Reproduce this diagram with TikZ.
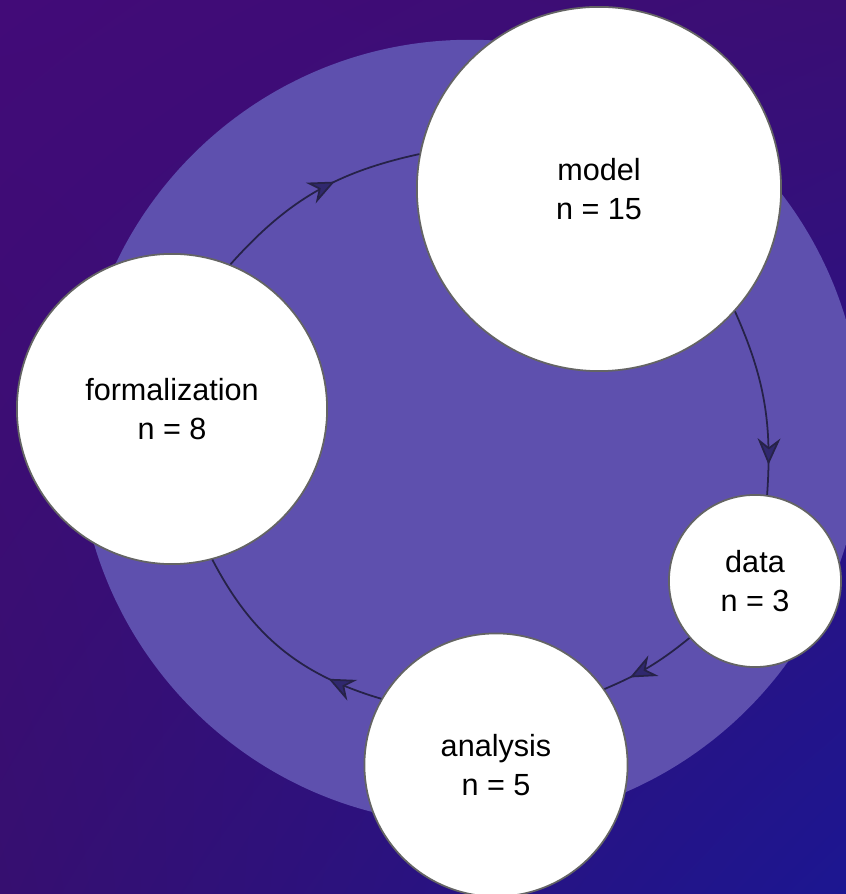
\documentclass[tikz,border=0pt]{standalone}
\usepackage{fontspec}
\setmainfont{Liberation Sans}
\usetikzlibrary{arrows.meta, decorations.markings, shadings}

\definecolor{bgtl}{RGB}{66,11,120}
\definecolor{bgtr}{RGB}{58,14,116}
\definecolor{bgbl}{RGB}{54,15,112}
\definecolor{bgbr}{RGB}{28,22,145}
\definecolor{ring}{RGB}{94,80,174}
\definecolor{stagerim}{RGB}{100,100,100}
\definecolor{linkc}{RGB}{38,34,72}
\definecolor{tipc}{RGB}{48,40,110}

\begin{document}
\begin{tikzpicture}[x=.01cm, y=.01cm,
  stage/.style={circle, draw=stagerim, line width=.5pt, fill=white, inner sep=0pt, align=center, font=\fontsize{8.7}{11}\selectfont},
  link/.style={draw=linkc, line width=.5pt, postaction={decorate}, decoration={markings, mark=at position #1 with {\arrow{Stealth[length=7.5pt, width=6.5pt, inset=2.5pt, fill=tipc]}}}}]

\useasboundingbox (0, 0) rectangle (846, 894);
\shade[upper left=bgtl, upper right=bgtr, lower left=bgbl, lower right=bgbr] (0, 0) rectangle (846, 894); %background
\fill[ring] (470, 462) circle[radius=3.92cm]; %disc

\node[stage, minimum size=3.64cm] (model) at (599, 705) {model\\n = 15};
\node[stage, minimum size=3.10cm] (form) at (172, 485) {formalization\\n = 8};
\node[stage, minimum size=1.72cm] (data) at (755, 313) {data\\n = 3};
\node[stage, minimum size=2.63cm] (analysis) at (496, 129) {analysis\\n = 5};

\draw[link=.6] (form.68) to[bend left=18] (model.169); %form -> model
\draw[link=.84] (model.-42) to[bend left=14] (data.82); %model -> data
\draw[link=.72] (data.221) to[bend left=8] (analysis.35); %data -> analysis
\draw[link=.25] (analysis.150) to[bend left=23] (form.285); %analysis -> form

\end{tikzpicture}
\end{document}
